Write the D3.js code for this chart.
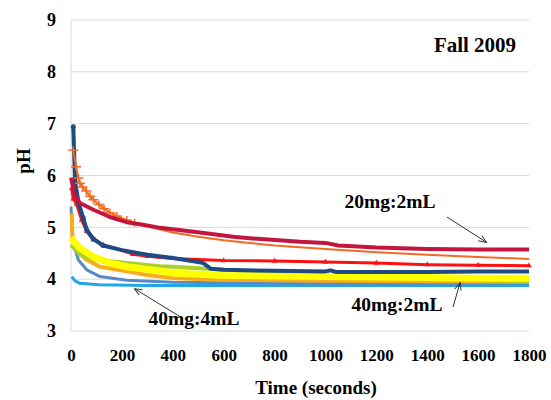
<!DOCTYPE html>
<html>
<head>
<meta charset="utf-8">
<script src="https://cdn.jsdelivr.net/npm/d3@7"></script>
<style>
  body { margin: 0; background: #fff; }
</style>
</head>
<body>
<div id="chart"></div>
<script>
var width = 551;
var height = 400;
var serif = "'Liberation Serif', 'Times New Roman', serif";

var xTicks = [0, 200, 400, 600, 800, 1000, 1200, 1400, 1600, 1800];
var yTicks = [3, 4, 5, 6, 7, 8, 9];

// [time (s), pH]
var lightBlue = [[3,4.05],[15,3.97],[35,3.92],[110,3.89],[300,3.88],[600,3.88],[1000,3.88],[1400,3.88],[1800,3.88]];
var steelBlue = [[0,5.4],[5,4.9],[15,4.6],[29,4.37],[62,4.18],[114,4.05],[219,3.98],[400,3.94],[600,3.93],[1000,3.92],[1400,3.92],[1800,3.92]];
var gold = [[3,5.27],[6,4.75],[15,4.62],[35,4.5],[60,4.38],[114,4.24],[219,4.15],[300,4.08],[400,4.02],[600,3.99],[1000,3.97],[1400,3.96],[1800,3.95]];
var green = [[0,4.66],[35,4.47],[88,4.38],[219,4.31],[350,4.25],[400,4.24],[600,4.18],[800,4.12],[1000,4.08],[1200,4.04],[1400,4.01],[1600,3.98],[1800,3.96]];
var yellow = [[0,4.8],[35,4.6],[88,4.43],[153,4.31],[219,4.24],[350,4.16],[400,4.12],[600,4.07],[800,4.06],[1000,4.05],[1200,4.04],[1400,4.03],[1600,4.02],[1800,4.02]];
var red = [[3,5.75],[9,5.55],[22,5.45],[42,5.14],[62,4.92],[88,4.76],[127,4.66],[219,4.53],[244,4.48],[300,4.44],[400,4.4],[600,4.36],[800,4.35],[1000,4.33],[1200,4.31],[1400,4.28],[1600,4.27],[1800,4.26]];
var violet = [[9,6.94],[16,5.88],[30,5.47],[48,5.18]];
var navy = [[9,6.94],[16,5.88],[30,5.47],[48,5.18],[62,4.95],[87,4.78],[126,4.65],[200,4.56],[300,4.47],[400,4.41],[500,4.33],[520,4.31],[550,4.2],[600,4.18],[800,4.16],[1000,4.15],[1020,4.17],[1040,4.14],[1200,4.14],[1400,4.14],[1600,4.15],[1800,4.15]];
var orange = [[9,6.49],[20,6.17],[29,5.95],[35,5.85],[45,5.78],[60,5.7],[75,5.6],[88,5.53],[110,5.44],[130,5.36],[153,5.28],[180,5.22],[219,5.14],[250,5.09],[300,5.02],[400,4.9],[500,4.82],[600,4.75],[700,4.7],[800,4.65],[1000,4.58],[1200,4.52],[1400,4.47],[1600,4.43],[1800,4.39]];
var crimson = [[0,5.96],[16,5.6],[35,5.47],[88,5.34],[153,5.2],[219,5.1],[283,5.05],[350,4.99],[507,4.9],[637,4.82],[703,4.79],[900,4.72],[1000,4.7],[1050,4.65],[1200,4.61],[1400,4.58],[1600,4.57],[1800,4.57]];

var series = [
  { data: lightBlue, color: "#1fa8e4", w: 3 },
  { data: steelBlue, color: "#5a8ac6", w: 3 },
  { data: gold, color: "#f5ad1c", w: 4 },
  { data: green, color: "#a8cf2e", w: 4 },
  { data: yellow, color: "#ffff00", w: 7 },
  { data: red, color: "#ff1010", w: 3, marker: "tri" },
  { data: violet, color: "#3d2dff", w: 2 },
  { data: navy, color: "#1f4a84", w: 4, marker: "dot", markerMax: 130 },
  { data: orange, color: "#f36a23", w: 2, marker: "plus", markerMax: 260 },
  { data: crimson, color: "#c3163f", w: 4 }
];

var svg = d3.select("#chart").append("svg")
  .attr("width", width)
  .attr("height", height);

var x = d3.scaleLinear().domain([0, 1800]).range([71, 529]);
var y = d3.scaleLinear().domain([3, 9]).range([331, 20]);

// gridlines
svg.append("g")
  .selectAll("line")
  .data(yTicks)
  .enter().append("line")
  .attr("x1", x(0)).attr("x2", x(1800))
  .attr("y1", function(d) { return y(d); })
  .attr("y2", function(d) { return y(d); })
  .attr("stroke", "#d9d9d9")
  .attr("stroke-width", 1);

svg.append("line")
  .attr("x1", x(0)).attr("x2", x(0))
  .attr("y1", y(9)).attr("y2", y(3))
  .attr("stroke", "#d9d9d9");

// axes (labels only)
var yAxis = svg.append("g")
  .attr("transform", "translate(" + x(0) + ",0)")
  .call(d3.axisLeft(y).tickValues(yTicks).tickFormat(d3.format("d")).tickSize(0).tickPadding(15));
yAxis.select(".domain").remove();
yAxis.attr("font-family", serif).attr("font-size", 18).attr("font-weight", "bold");
yAxis.selectAll("text").attr("fill", "#000");

var xAxis = svg.append("g")
  .attr("transform", "translate(0," + y(3) + ")")
  .call(d3.axisBottom(x).tickValues(xTicks).tickFormat(d3.format("d")).tickSize(0).tickPadding(18));
xAxis.select(".domain").remove();
xAxis.attr("font-family", serif).attr("font-size", 17).attr("font-weight", "bold");
xAxis.selectAll("text").attr("fill", "#000");

var line = d3.line()
  .x(function(d) { return x(d[0]); })
  .y(function(d) { return y(d[1]); });

series.forEach(function(s) {
  svg.append("path")
    .attr("d", line(s.data))
    .attr("fill", "none")
    .attr("stroke", s.color)
    .attr("stroke-width", s.w)
    .attr("stroke-linejoin", "round");

  if (s.marker) {
    var pts = s.data.filter(function(d) { return !s.markerMax || d[0] <= s.markerMax; });
    var g = svg.append("g");
    if (s.marker === "plus") {
      g.selectAll("path").data(pts).enter().append("path")
        .attr("d", "M-5,0H5M0,-4V4")
        .attr("transform", function(d) { return "translate(" + x(d[0]) + "," + y(d[1]) + ")"; })
        .attr("stroke", s.color).attr("stroke-width", 1.5);
    } else if (s.marker === "dot") {
      g.selectAll("circle").data(pts).enter().append("circle")
        .attr("cx", function(d) { return x(d[0]); })
        .attr("cy", function(d) { return y(d[1]); })
        .attr("r", 2.5)
        .attr("fill", s.color);
    } else {
      g.selectAll("path").data(pts).enter().append("path")
        .attr("d", d3.symbol().type(d3.symbolTriangle).size(14))
        .attr("transform", function(d) { return "translate(" + x(d[0]) + "," + y(d[1]) + ")"; })
        .attr("fill", s.color);
    }
  }
});

function boldText(sel, size) {
  return sel.attr("font-family", serif)
    .attr("font-weight", "bold")
    .attr("font-size", size)
    .attr("fill", "#000");
}

// titles
boldText(svg.append("text"), 19)
  .attr("x", 316).attr("y", 394)
  .attr("text-anchor", "middle")
  .text("Time (seconds)");

boldText(svg.append("text"), 19)
  .attr("transform", "translate(30,161) rotate(-90)")
  .attr("text-anchor", "middle")
  .text("pH");

boldText(svg.append("text"), 21)
  .attr("x", 475).attr("y", 52)
  .attr("text-anchor", "middle")
  .text("Fall 2009");

// annotations
var notes = [
  { label: "20mg:2mL", tx: 390, ty: 208, from: [447, 217], to: [486, 242] },
  { label: "40mg:2mL", tx: 397, ty: 311, from: [453, 307], to: [460, 283] },
  { label: "40mg:4mL", tx: 194, ty: 325, from: [179, 316], to: [135, 289] }
];

svg.append("defs").append("marker")
  .attr("id", "arrow")
  .attr("viewBox", "0 -5 10 10")
  .attr("refX", 9).attr("refY", 0)
  .attr("markerWidth", 8).attr("markerHeight", 8)
  .attr("markerUnits", "userSpaceOnUse")
  .attr("orient", "auto")
  .append("path")
  .attr("d", "M0,-4L10,0L0,4")
  .attr("fill", "none")
  .attr("stroke", "#333")
  .attr("stroke-width", 1.2);

notes.forEach(function(n) {
  boldText(svg.append("text"), 19.5)
    .attr("x", n.tx).attr("y", n.ty)
    .attr("text-anchor", "middle")
    .text(n.label);
  svg.append("line")
    .attr("x1", n.from[0]).attr("y1", n.from[1])
    .attr("x2", n.to[0]).attr("y2", n.to[1])
    .attr("stroke", "#333")
    .attr("stroke-width", 1)
    .attr("marker-end", "url(#arrow)");
});
</script>
</body>
</html>
